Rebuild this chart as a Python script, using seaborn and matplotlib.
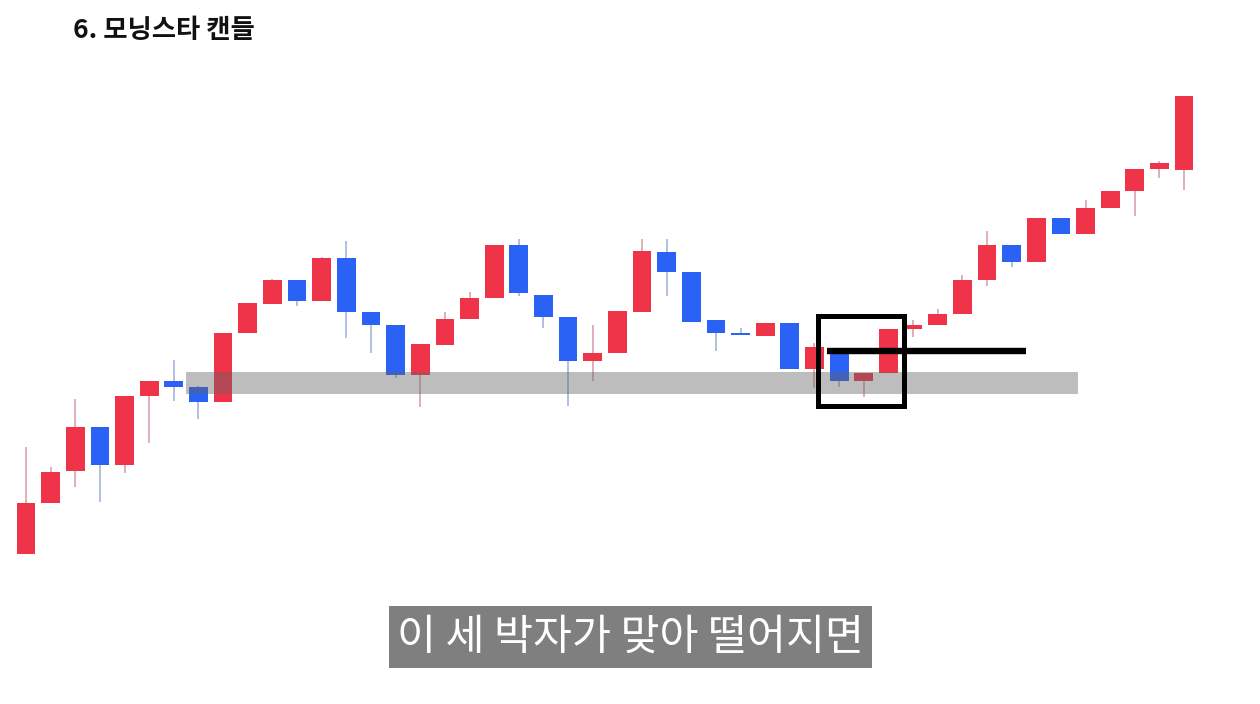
import numpy as np
import pandas as pd
import matplotlib
matplotlib.use("Agg")
import matplotlib.pyplot as plt
import seaborn as sns
from matplotlib.patches import Rectangle

# ---- data (price units) ----
opens  = [150, 201, 233, 277, 239, 308, 323, 317, 302, 371, 400, 424, 403, 446, 392, 379,
          329, 359, 385, 406, 459, 409, 387, 343, 351, 392, 452, 432, 384, 371, 368, 381,
          335, 351, 323, 331, 375, 379, 390, 424, 459, 442, 486, 470, 496, 513, 535, 534]
closes = [201, 232, 277, 239, 308, 323, 317, 302, 371, 401, 424, 403, 446, 392, 379, 329,
          360, 385, 406, 459, 411, 387, 343, 351, 393, 453, 432, 382, 371, 369, 381, 335,
          357, 323, 331, 375, 379, 390, 424, 459, 442, 486, 470, 496, 513, 535, 541, 608]
highs  = [257, 237, 305, 277, 308, 323, 344, 318, 371, 401, 425, 424, 447, 463, 392, 379,
          360, 392, 412, 459, 465, 409, 387, 379, 393, 465, 465, 432, 384, 376, 381, 381,
          361, 351, 331, 375, 384, 395, 429, 473, 459, 486, 486, 504, 513, 535, 543, 608]
lows   = [150, 201, 217, 202, 231, 261, 303, 285, 302, 371, 400, 398, 403, 366, 351, 326,
          297, 359, 385, 406, 408, 376, 298, 323, 351, 392, 408, 382, 353, 369, 368, 335,
          316, 317, 307, 331, 367, 379, 390, 418, 437, 442, 470, 470, 496, 488, 526, 514]

title_text = "6. 모닝스타 캔들"
caption_text = "이 세 박자가 맞아 떨어지면"

support_level = (310, 332)      # gray band (price range)
support_span = (6.49, 42.69)    # candle-index range of the band
resistance_level = 353          # black line
resistance_span = (32.5, 40.6)
star_box = (32.16, 35.65, 298.5, 388.5)   # x0, x1, y0, y1 of the box

UP = "#EF3349"
DOWN = "#2A62F6"
UP_WICK = "#D9A3AB"
DOWN_WICK = "#A3B5DC"

df = pd.DataFrame({"idx": np.arange(len(opens)), "open": opens, "close": closes,
                   "high": highs, "low": lows})
df["up"] = df["close"] >= df["open"]
df["bottom"] = df[["open", "close"]].min(axis=1)
df["height"] = (df["close"] - df["open"]).abs().clip(lower=2)

sns.set_theme(style="white")
plt.rcParams["font.family"] = ["Noto Sans CJK KR", "DejaVu Sans"]

fig = plt.figure(figsize=(12.6, 7.04), dpi=100)
ax = fig.add_axes([0, 0, 1, 1])

# wicks
for up, wc in [(True, UP_WICK), (False, DOWN_WICK)]:
    sub = df[df["up"] == up]
    ax.vlines(sub["idx"], sub["low"], sub["high"], color=wc, linewidth=1.2, zorder=1)

# bodies
for up, col in [(True, UP), (False, DOWN)]:
    sub = df[df["up"] == up].reset_index(drop=True)
    sns.barplot(data=sub, x="idx", y="height", native_scale=True, width=0.76,
                color=col, saturation=1, bottom=sub["bottom"].values,
                edgecolor="none", linewidth=0, ax=ax, zorder=2)

ax.set_xlim(-1.055, 50.08)
ax.set_ylim(0, 704)
ax.axis("off")

# gray support band
ax.add_patch(Rectangle((support_span[0], support_level[0]),
                       support_span[1] - support_span[0],
                       support_level[1] - support_level[0],
                       facecolor=(0.39, 0.39, 0.39), alpha=0.42, edgecolor="none", zorder=3))

# black box around morning star
bx0, bx1, by0, by1 = star_box
ax.add_patch(Rectangle((bx0, by0), bx1 - bx0, by1 - by0, facecolor="none",
                       edgecolor="black", linewidth=3.6, zorder=5))

# resistance line
ax.plot(list(resistance_span), [resistance_level, resistance_level], color="black",
        linewidth=4.6, solid_capstyle="butt", zorder=5)

# title
fig.text(73 / 1260, 1 - 31 / 704, title_text, fontsize=19, fontweight="bold",
         color="#111111", va="center", ha="left")

# caption
fig.patches.append(Rectangle((389 / 1260, 1 - 668 / 704), (872 - 389) / 1260, 62 / 704,
                             transform=fig.transFigure, facecolor="#7F7F7F",
                             edgecolor="none", zorder=1))
fig.text(630.5 / 1260, 1 - 638 / 704, caption_text, fontsize=30.5, color="white",
         ha="center", va="center", zorder=2)

fig.savefig("out.png", dpi=100, facecolor="white")
